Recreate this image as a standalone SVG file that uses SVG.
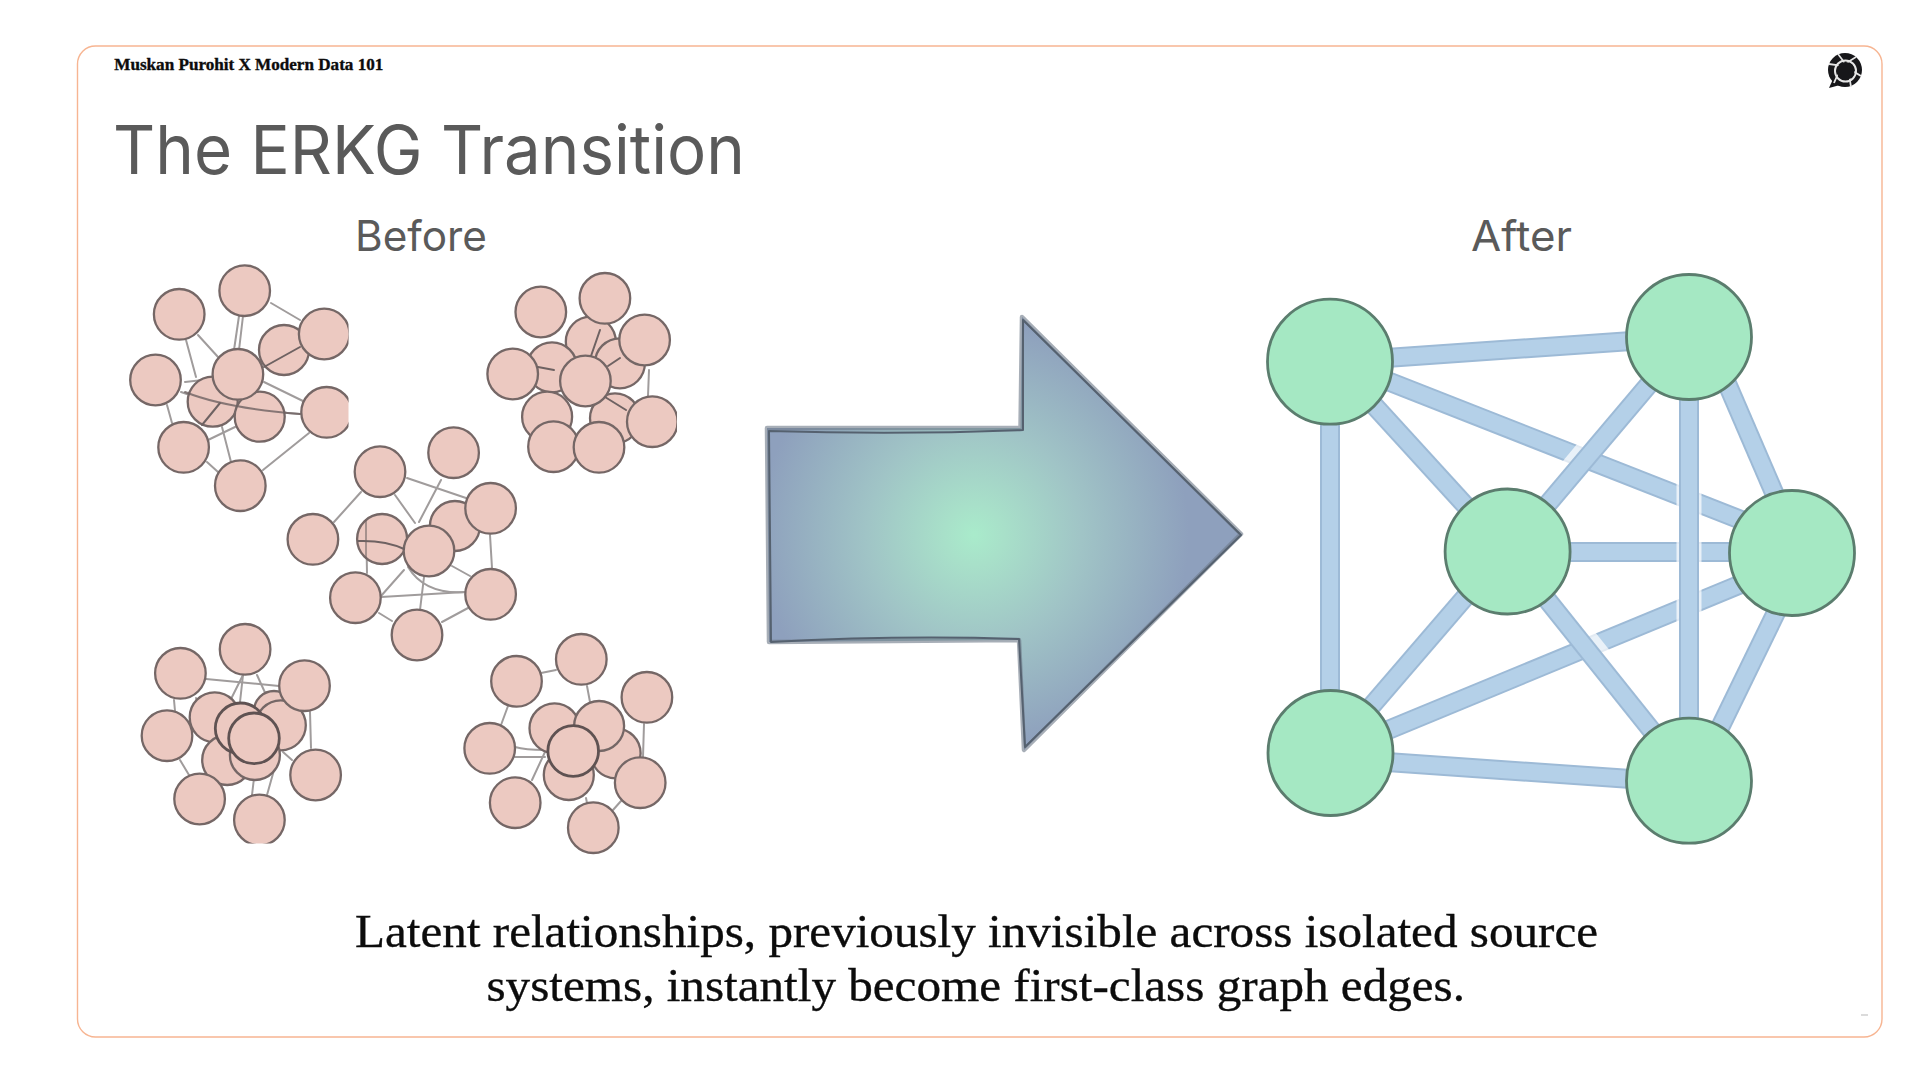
<svg xmlns="http://www.w3.org/2000/svg" width="1920" height="1080" viewBox="0 0 1920 1080">
<style>
text{font-family:"Inter","Roboto",sans-serif}
.serif{font-family:"Liberation Serif","DejaVu Serif",serif;fill:#0c0c0c;stroke:#0c0c0c;stroke-width:.35}
.sans{fill:#5a5a5a}
.p circle{fill:#ecc9c1;stroke:#756766;stroke-width:2.300}
.p .top circle{stroke:#5f5252;stroke-width:2.800}
.g circle{fill:#a5e8c3;stroke:#5b7d6e;stroke-width:2.800}
.thin line,.thin path{stroke:#a09c9c;stroke-width:2;fill:none;stroke-linecap:round}
.dark line,.dark path{stroke:#6e6262;stroke-width:2;fill:none;stroke-linecap:round}
.e1{stroke:#9dbad6;stroke-width:20;fill:none}
.e2{stroke:#b4d0e8;stroke-width:16;fill:none}
.h{stroke:#fff;stroke-width:25;stroke-opacity:.7;fill:none}
</style>
<defs>
<radialGradient id="arrowFill" gradientUnits="userSpaceOnUse" cx="974" cy="535" r="215">
<stop offset="0" stop-color="#a9ebcb"/>
<stop offset=".14" stop-color="#a8e0c9"/>
<stop offset=".5" stop-color="#a0c4c6"/>
<stop offset="1" stop-color="#8ea0bd"/>
</radialGradient>
<clipPath id="c1"><rect x="100" y="250" width="248.500" height="280"/></clipPath>
<clipPath id="c2"><rect x="480" y="250" width="197" height="250"/></clipPath>
<clipPath id="c4"><rect x="130" y="620" width="230" height="223.500"/></clipPath>
</defs>
<rect width="1920" height="1080" fill="#fff"/>
<rect id="frame" x="77.500" y="46" width="1804.500" height="991" rx="18" fill="#fff" stroke="#f7b592" stroke-width="1.400"/>
<text class="serif" x="114.300" y="70" font-size="17" font-weight="700" textLength="269" lengthAdjust="spacingAndGlyphs">Muskan Purohit X Modern Data 101</text>
<text class="sans" x="113" y="174" font-size="68" font-weight="400" textLength="632" lengthAdjust="spacingAndGlyphs">The ERKG Transition</text>
<text class="sans" x="355" y="251" font-size="42" font-weight="400" textLength="132" lengthAdjust="spacingAndGlyphs">Before</text>
<text class="sans" x="1471" y="251" font-size="42" font-weight="400" textLength="101" lengthAdjust="spacingAndGlyphs">After</text>
<g id="logo">
<circle cx="1845" cy="70" r="17" fill="#17171a"/>
<path d="M1833 79l-4 9 11-3z" fill="#17171a"/>
<circle cx="1845.500" cy="71" r="10.500" fill="none" stroke="#e6e6e6" stroke-width="2"/>
<path d="M1829 64q16 1 32 12M1834 83q6-18 22-26M1838 54q11 12 13 33" fill="none" stroke="#e6e6e6" stroke-width="1.800"/>
<circle cx="1845.500" cy="71" r="9" fill="#17171a"/>
</g>
<g id="connectors-before" class="thin">
<line x1="271" y1="303" x2="300" y2="320"/><line x1="239" y1="316" x2="234" y2="350"/><line x1="243" y1="316" x2="239" y2="350"/><line x1="198" y1="335" x2="218" y2="357"/><line x1="186" y1="340" x2="196" y2="377"/><line x1="185" y1="382" x2="212" y2="379"/><path d="M181 392Q225 408 300 414"/><line x1="264" y1="382" x2="305" y2="402"/><line x1="167" y1="405" x2="172" y2="423"/><line x1="208" y1="440" x2="235" y2="427"/><line x1="222" y1="427" x2="231" y2="462"/><line x1="207" y1="462" x2="218" y2="472"/><line x1="309" y1="433" x2="263" y2="470"/>
<line x1="649" y1="370" x2="648" y2="396"/>
<line x1="361" y1="492" x2="334" y2="522"/><line x1="395" y1="495" x2="415" y2="523"/><line x1="407" y1="478" x2="466" y2="498"/><line x1="441" y1="480" x2="419" y2="522"/><line x1="366" y1="520" x2="367" y2="573"/><line x1="381" y1="596" x2="404" y2="570"/><line x1="381" y1="597" x2="465" y2="592"/><path d="M408 567Q425 595 466 592"/><line x1="452" y1="566" x2="470" y2="576"/><line x1="424" y1="577" x2="420" y2="610"/><line x1="490" y1="535" x2="492" y2="568"/><line x1="379" y1="613" x2="392" y2="621"/><line x1="442" y1="622" x2="468" y2="608"/>
<line x1="206" y1="679" x2="279" y2="686"/><line x1="243" y1="675" x2="229" y2="703"/><line x1="243" y1="675" x2="240" y2="702"/><line x1="257" y1="675" x2="267" y2="697"/><line x1="174" y1="700" x2="175" y2="711"/><path d="M196 698Q207 740 230 752"/><line x1="310" y1="712" x2="311" y2="748"/><line x1="283" y1="752" x2="292" y2="760"/><line x1="180" y1="760" x2="189" y2="775"/><line x1="254" y1="778" x2="252" y2="795"/><line x1="274" y1="770" x2="267" y2="795"/>
<line x1="541" y1="673" x2="556" y2="670"/><line x1="587" y1="686" x2="590" y2="702"/><line x1="508" y1="706" x2="501" y2="725"/><path d="M515 747Q525 750 545 750"/><line x1="515" y1="757" x2="545" y2="757"/><line x1="532" y1="780" x2="545" y2="752"/><line x1="644" y1="724" x2="643" y2="757"/><line x1="586" y1="798" x2="587" y2="803"/><line x1="621" y1="801" x2="613" y2="810"/>
</g>
<g id="nodes-before-back" class="p">
<g id="c1-d"><circle cx="284" cy="350" r="25"/></g>
<g id="c1-g"><circle cx="212.700" cy="401.700" r="25"/></g>
<g id="c1-h"><circle cx="259.700" cy="416.700" r="25"/></g>
<g id="c2-d"><circle cx="590.800" cy="341.700" r="25"/></g>
<g id="c2-e"><circle cx="619.900" cy="363.300" r="25"/></g>
<g id="c2-f"><circle cx="552" cy="367.300" r="25"/></g>
<g id="c2-i"><circle cx="547.100" cy="416.700" r="25"/></g>
<g id="c2-j"><circle cx="615" cy="418.300" r="25"/></g>
<g id="c3-d"><circle cx="454.900" cy="526" r="25"/></g>
<g id="c3-f"><circle cx="382.100" cy="539" r="25"/></g>
<g id="c4-d"><circle cx="214.700" cy="717.300" r="25"/></g>
<g id="c4-e"><circle cx="274" cy="711" r="20"/></g>
<g id="c4-f"><circle cx="280.800" cy="725.300" r="25"/></g>
<g id="c4-i"><circle cx="227.200" cy="760" r="25"/></g>
<g id="c4-j"><circle cx="254.900" cy="755" r="25"/></g>
<g id="c5-g"><circle cx="615.600" cy="753.300" r="25"/></g>
<g id="c5-d"><circle cx="554.500" cy="728.300" r="25"/></g>
<g id="c5-e"><circle cx="599.100" cy="726" r="25"/></g>
<g id="c5-i"><circle cx="568.800" cy="775" r="25"/></g>
</g>
<g id="nodes-before-front" class="p">
<g id="c1-a"><circle cx="179.200" cy="314.300" r="25.300"/></g>
<g id="c1-b"><circle cx="244.700" cy="290.700" r="25.300"/></g>
<g id="c1-c" clip-path="url(#c1)"><circle cx="324.200" cy="334" r="25.300"/></g>
<g id="c1-e"><circle cx="155.500" cy="380" r="25.300"/></g>
<g id="c1-f"><circle cx="237.900" cy="374.300" r="25.300"/></g>
<g id="c1-i" clip-path="url(#c1)"><circle cx="326.600" cy="412.300" r="25.300"/></g>
<g id="c1-j"><circle cx="183.600" cy="447.300" r="25.300"/></g>
<g id="c1-k"><circle cx="240.300" cy="485.700" r="25.300"/></g>
<g id="c2-a"><circle cx="540.800" cy="312" r="25.300"/></g>
<g id="c2-b"><circle cx="604.900" cy="298.300" r="25.300"/></g>
<g id="c2-c"><circle cx="644.600" cy="340" r="25.300"/></g>
<g id="c2-g"><circle cx="512.700" cy="374" r="25.300"/></g>
<g id="c2-h"><circle cx="585.400" cy="381" r="25.300"/></g>
<g id="c2-k" clip-path="url(#c2)"><circle cx="652.300" cy="421.700" r="25.300"/></g>
<g id="c2-l"><circle cx="553.500" cy="446.700" r="25.300"/></g>
<g id="c2-m"><circle cx="599" cy="447.300" r="25.300"/></g>
<g id="c3-a"><circle cx="380" cy="471.700" r="25.300"/></g>
<g id="c3-b"><circle cx="453.600" cy="452.700" r="25.300"/></g>
<g id="c3-c"><circle cx="490.600" cy="508.300" r="25.300"/></g>
<g id="c3-e"><circle cx="312.900" cy="539.300" r="25.300"/></g>
<g id="c3-g"><circle cx="429" cy="551" r="25.300"/></g>
<g id="c3-h"><circle cx="355.400" cy="597.700" r="25.300"/></g>
<g id="c3-i"><circle cx="490.600" cy="594.300" r="25.300"/></g>
<g id="c3-j"><circle cx="417" cy="635" r="25.300"/></g>
<g id="c4-a"><circle cx="245.100" cy="649.300" r="25.300"/></g>
<g id="c4-b"><circle cx="180.400" cy="673.300" r="25.300"/></g>
<g id="c4-c"><circle cx="304.500" cy="685.700" r="25.300"/></g>
<g id="c4-g"><circle cx="167" cy="735.700" r="25.300"/></g>
<g id="c4-h" class="top"><circle cx="240.600" cy="728.300" r="25.300"/></g>
<g id="c4-k" class="top"><circle cx="254" cy="738.300" r="25.300"/></g>
<g id="c4-l"><circle cx="315.600" cy="775" r="25.300"/></g>
<g id="c4-m"><circle cx="199.600" cy="799" r="25.300"/></g>
<g id="c4-n" clip-path="url(#c4)"><circle cx="259.400" cy="820" r="25.300"/></g>
<g id="c5-a"><circle cx="516.500" cy="681.300" r="25.300"/></g>
<g id="c5-b"><circle cx="581.300" cy="659.300" r="25.300"/></g>
<g id="c5-c"><circle cx="646.900" cy="697.300" r="25.300"/></g>
<g id="c5-f"><circle cx="489.700" cy="748.300" r="25.300"/></g>
<g id="c5-h" class="top"><circle cx="573.200" cy="751" r="25.300"/></g>
<g id="c5-j"><circle cx="640.200" cy="782.700" r="25.300"/></g>
<g id="c5-k"><circle cx="515.200" cy="802.700" r="25.300"/></g>
<g id="c5-l"><circle cx="593.300" cy="827.700" r="25.300"/></g>
</g>
<g id="connectors-before-over" class="dark">
<line x1="264" y1="367" x2="300" y2="347"/><path d="M185 392Q225 408 300 414" stroke-opacity=".8"/><line x1="202" y1="425" x2="220" y2="403"/>
<line x1="600" y1="330" x2="591" y2="356"/><line x1="538" y1="367" x2="554" y2="370"/><line x1="608" y1="366" x2="620" y2="358"/><line x1="605" y1="397" x2="626" y2="410"/>
<path d="M358 541Q385 540 404 549"/><line x1="366" y1="521" x2="366" y2="558" stroke-opacity=".55"/>
</g>
<g id="arrow">
<path d="M767 428L1020.500 428L1022 317L1241 534L1024 750L1019 640L769 642Z" fill="url(#arrowFill)" stroke="#6d7887" stroke-width="4.500" stroke-linejoin="round" stroke-opacity=".6"/>
<path d="M769 431Q900 435 1023 430L1023 320L1241 535L1025 747L1019 639Q900 635 771 642Z" fill="none" stroke="#55616f" stroke-width="2" stroke-linejoin="round"/>
</g>
<g id="connectors-after">
<line class="e1" x1="1329" y1="362" x2="1689" y2="337"/><line class="e2" x1="1329" y1="362" x2="1689" y2="337"/>
<line class="e1" x1="1329" y1="358" x2="1792" y2="540"/><line class="e2" x1="1329" y1="358" x2="1792" y2="540"/>
<line class="e1" x1="1329" y1="356" x2="1507" y2="551"/><line class="e2" x1="1329" y1="356" x2="1507" y2="551"/>
<line class="e1" x1="1330" y1="362" x2="1330" y2="753"/><line class="e2" x1="1330" y1="362" x2="1330" y2="753"/>
<line class="h" x1="1600" y1="436" x2="1565" y2="478"/>
<line class="e1" x1="1689" y1="337" x2="1508" y2="551"/><line class="e2" x1="1689" y1="337" x2="1508" y2="551"/>
<line class="e1" x1="1707" y1="337" x2="1800" y2="553"/><line class="e2" x1="1707" y1="337" x2="1800" y2="553"/>
<line class="e1" x1="1508" y1="552" x2="1792" y2="552"/><line class="e2" x1="1508" y1="552" x2="1792" y2="552"/>
<line class="e1" x1="1331" y1="753" x2="1504" y2="552"/><line class="e2" x1="1331" y1="753" x2="1504" y2="552"/>
<line class="e1" x1="1792" y1="563" x2="1330" y2="754"/><line class="e2" x1="1792" y1="563" x2="1330" y2="754"/>
<line class="h" x1="1689" y1="480" x2="1689" y2="515"/>
<line class="h" x1="1689" y1="530" x2="1689" y2="575"/>
<line class="h" x1="1689" y1="585" x2="1689" y2="625"/>
<line class="e1" x1="1689" y1="337" x2="1689" y2="781"/><line class="e2" x1="1689" y1="337" x2="1689" y2="781"/>
<line class="h" x1="1575" y1="627" x2="1607" y2="667"/>
<line class="e1" x1="1509" y1="552" x2="1692" y2="781"/><line class="e2" x1="1509" y1="552" x2="1692" y2="781"/>
<line class="e1" x1="1805" y1="553" x2="1694" y2="781"/><line class="e2" x1="1805" y1="553" x2="1694" y2="781"/>
<line class="e1" x1="1330" y1="758" x2="1688" y2="783"/><line class="e2" x1="1330" y1="758" x2="1688" y2="783"/>
</g>
<g id="nodes-after" class="g">
<g id="n1"><circle cx="1330" cy="361.700" r="62.500"/></g>
<g id="n2"><circle cx="1689" cy="337" r="62.500"/></g>
<g id="n3"><circle cx="1507.600" cy="551.500" r="62.500"/></g>
<g id="n4"><circle cx="1792" cy="553" r="62.500"/></g>
<g id="n5"><circle cx="1330.500" cy="753" r="62.500"/></g>
<g id="n6"><circle cx="1689" cy="780.700" r="62.500"/></g>
</g>
<text class="serif" x="355" y="947" font-size="47" textLength="1243" lengthAdjust="spacingAndGlyphs">Latent relationships, previously invisible across isolated source</text>
<text class="serif" x="486.500" y="1001" font-size="47" textLength="978.500" lengthAdjust="spacingAndGlyphs">systems, instantly become first-class graph edges.</text>
<line x1="1861" y1="1015" x2="1868" y2="1015" stroke="#cfcfcf" stroke-width="1.500"/>
</svg>
